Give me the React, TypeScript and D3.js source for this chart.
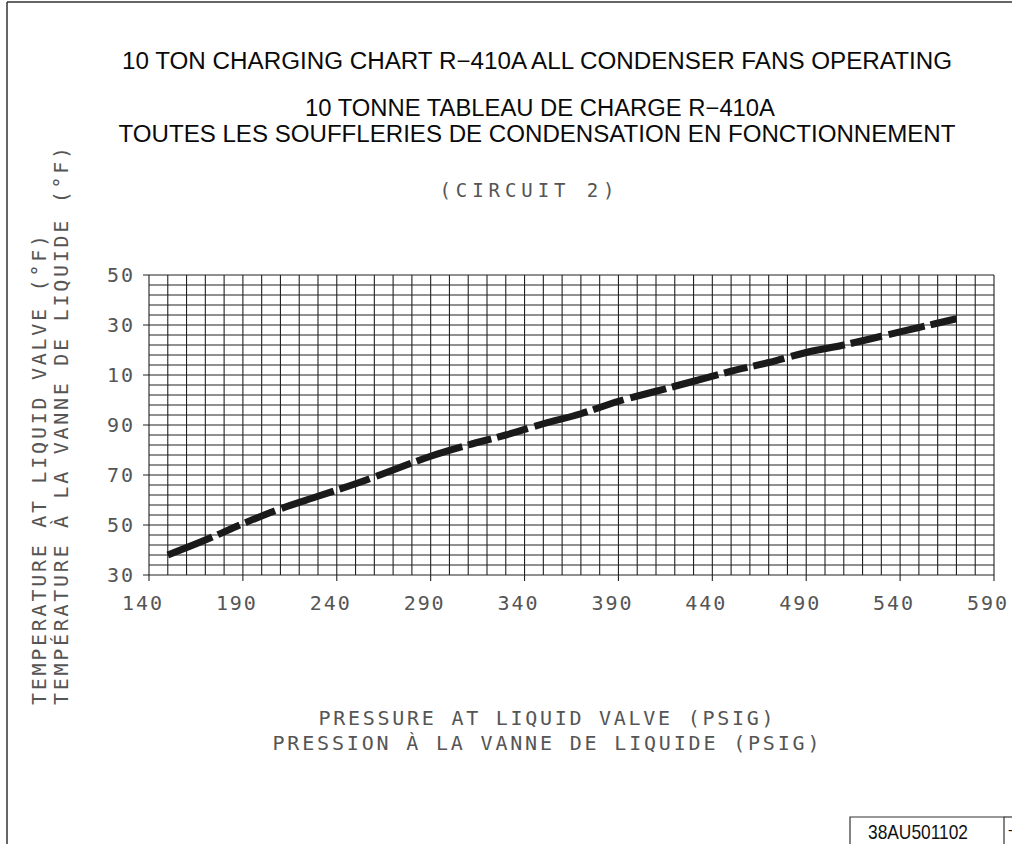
import * as d3 from "d3";

// pressure at liquid valve (psig) vs liquid temperature (°F)
const pressure = [150, 170, 190, 210, 230, 250, 270, 290, 310, 330, 350, 370, 390, 410, 430, 450, 470, 490, 510, 530, 550, 570];
const temperature = [38, 44, 50.5, 56.5, 61.5, 66.5, 72, 77.5, 82, 86, 90.5, 94.5, 99.5, 103.5, 107.5, 111.5, 115, 119, 122, 125.5, 129, 132.5];

const xTicks = [140, 190, 240, 290, 340, 390, 440, 490, 540, 590];
const yTicks = [30, 50, 70, 90, 110, 130, 150];
// labels as printed on the original drawing (hundreds digit dropped)
const yTickLabels = ["30", "50", "70", "90", "10", "30", "50"];

const titles = [
  "10 TON CHARGING CHART R\u2212410A ALL CONDENSER FANS OPERATING",
  "10 TONNE TABLEAU DE CHARGE R\u2212410A",
  "TOUTES LES SOUFFLERIES DE CONDENSATION EN FONCTIONNEMENT",
];
const circuitLabel = "(CIRCUIT 2)";
const xTitle = ["PRESSURE AT LIQUID VALVE (PSIG)", "PRESSION \u00C0 LA VANNE DE LIQUIDE (PSIG)"];
const yTitle = ["TEMPERATURE AT LIQUID VALVE (\u00B0F)", "TEMP\u00C9RATURE \u00C0 LA VANNE DE LIQUIDE (\u00B0F)"];
const drawingNo = "38AU501102";

const W = 1012;
const H = 844;
const mono = "'DejaVu Sans Mono', monospace";
const narrow = "'Liberation Sans Narrow', 'Liberation Sans', Arial, sans-serif";

export default function App() {
  const x = d3.scaleLinear().domain([140, 590]).range([149, 994]);
  const y = d3.scaleLinear().domain([30, 150]).range([575, 275]);

  const vLines = d3.range(140, 591, 10);
  const hLines = d3.range(30, 151, 4);

  const points = pressure.map((p, i) => [p, temperature[i]] as [number, number]);
  const line = d3
    .line<[number, number]>()
    .x((d) => x(d[0]))
    .y((d) => y(d[1]))
    .curve(d3.curveMonotoneX);

  return (
    <svg
      width={W}
      height={H}
      viewBox={`0 0 ${W} ${H}`}
      style={{ position: "absolute", left: 0, top: 0, background: "#fff" }}
    >
      {/* sheet border */}
      <line x1={7} x2={W} y1={2} y2={2} stroke="#333" strokeWidth={1.5} />
      <line x1={7} x2={7} y1={2} y2={H} stroke="#333" strokeWidth={1.5} />

      {/* titles */}
      <g fontFamily={narrow} fontSize={23} fill="#0a0a0a" textAnchor="middle">
        <text x={537} y={69} textLength={830} lengthAdjust="spacingAndGlyphs">
          {titles[0]}
        </text>
        <text x={540} y={116} textLength={470} lengthAdjust="spacingAndGlyphs">
          {titles[1]}
        </text>
        <text x={537} y={142} textLength={837} lengthAdjust="spacingAndGlyphs">
          {titles[2]}
        </text>
      </g>
      <text x={527} y={197} textAnchor="middle" fontFamily={mono} fontSize={19} fill="#555" textLength={175} lengthAdjust="spacing">
        {circuitLabel}
      </text>

      {/* grid */}
      <g stroke="#222" strokeWidth={1.1}>
        {vLines.map((v) => (
          <line key={`v${v}`} x1={x(v)} x2={x(v)} y1={y(150)} y2={xTicks.includes(v) ? y(30) + 6 : y(30)} />
        ))}
        {hLines.map((v) => (
          <line key={`h${v}`} x1={yTicks.includes(v) ? x(140) - 6 : x(140)} x2={x(590)} y1={y(v)} y2={y(v)} />
        ))}
      </g>

      {/* tick labels */}
      <g fontFamily={mono} fontSize={20} fill="#555">
        {yTicks.map((t, i) => (
          <text key={`yt${t}`} x={133} y={y(t) + 7} textAnchor="end" textLength={26} lengthAdjust="spacing">
            {yTickLabels[i]}
          </text>
        ))}
        {xTicks.map((t) => (
          <text key={`xt${t}`} x={x(t) - 7} y={610} textAnchor="middle" textLength={40} lengthAdjust="spacing">
            {String(t)}
          </text>
        ))}
      </g>

      {/* axis titles */}
      <g fontFamily={mono} fontSize={20} fill="#555">
        <text x={546} y={725} textAnchor="middle" textLength={455} lengthAdjust="spacing">
          {xTitle[0]}
        </text>
        <text x={546} y={750} textAnchor="middle" textLength={547} lengthAdjust="spacing">
          {xTitle[1]}
        </text>
        <text transform="translate(46,705) rotate(-90)" textAnchor="start" textLength={470} lengthAdjust="spacing">
          {yTitle[0]}
        </text>
        <text transform="translate(68,705) rotate(-90)" textAnchor="start" textLength={558} lengthAdjust="spacing">
          {yTitle[1]}
        </text>
      </g>

      {/* charging curve */}
      <path
        d={line(points) ?? ""}
        fill="none"
        stroke="#1a1a1a"
        strokeWidth={7}
        strokeDasharray="48 6 24 6 32 7 55 6 32 7 37 6"
      />

      {/* drawing number box */}
      <polyline points={`850,${H} 850,817 1004,817 1004,${H}`} fill="none" stroke="#333" strokeWidth={1.2} />
      <line x1={1004} x2={W} y1={817} y2={817} stroke="#333" strokeWidth={1.2} />
      <text x={918} y={839} textAnchor="middle" fontFamily={narrow} fontSize={21} fill="#111" textLength={100} lengthAdjust="spacingAndGlyphs">
        {drawingNo}
      </text>
      <text x={1008} y={835} fontFamily={narrow} fontSize={14} fill="#111">
        -
      </text>
    </svg>
  );
}
